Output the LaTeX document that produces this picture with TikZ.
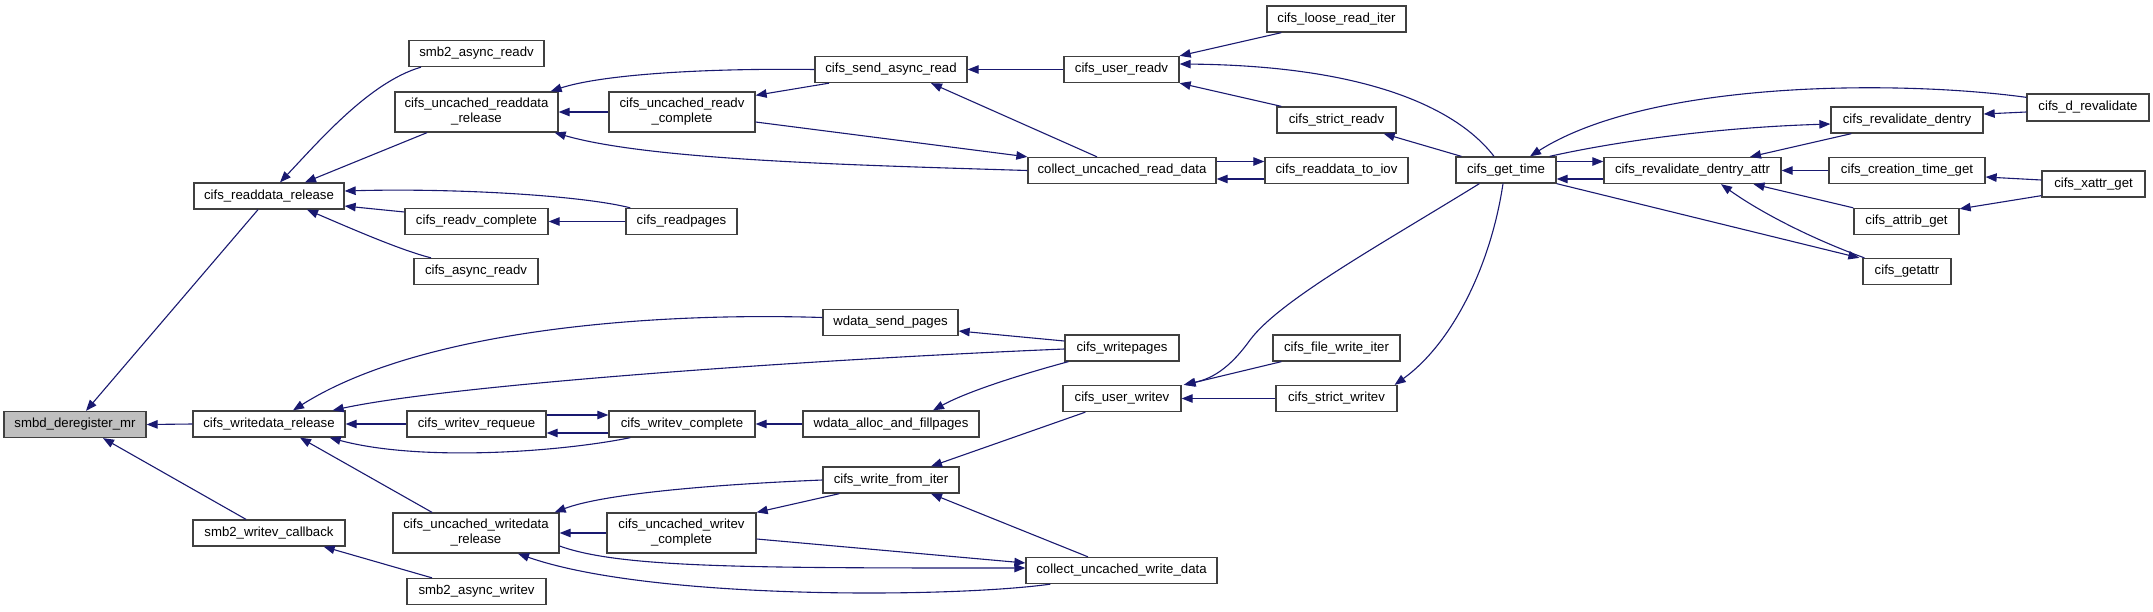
\documentclass[tikz,border=0pt]{standalone}
\usepackage{fontspec}
\setmainfont{Liberation Sans}
\usetikzlibrary{arrows.meta}
\definecolor{edgecol}{HTML}{191970}
\definecolor{bordercol}{HTML}{404040}
\definecolor{rootfill}{HTML}{BFBFBF}
\begin{document}
\begin{tikzpicture}[x=1pt,y=-1pt,
 fn/.style={draw=bordercol, line width=1.3pt, fill=white, inner sep=0pt, font=\fontsize{13.2}{15}\selectfont, align=center, minimum height=26pt},
 fn2/.style={fn, minimum height=40pt},
 calls/.style={draw=edgecol, line width=1.1pt, -{Triangle[length=11pt,width=8.5pt]}}]
\useasboundingbox (0,0) rectangle (2153,611);
% nodes
\node[fn, minimum width=142pt, fill=rootfill] (smbd) at (75,424.5) {smbd\_deregister\_mr};
\node[fn, minimum width=150pt] (rdrel) at (269,196) {cifs\_readdata\_release};
\node[fn, minimum width=135pt] (s2ar) at (476.5,53.5) {smb2\_async\_readv};
\node[fn2, minimum width=163pt] (urdrel) at (476.5,112) {cifs\_uncached\_readdata\\\_release};
\node[fn, minimum width=143pt] (rvc) at (476.5,221.5) {cifs\_readv\_complete};
\node[fn, minimum width=124pt] (car) at (476,271.5) {cifs\_async\_readv};
\node[fn, minimum width=152pt] (wdrel) at (269,424) {cifs\_writedata\_release};
\node[fn, minimum width=139pt] (wvrq) at (476.5,424) {cifs\_writev\_requeue};
\node[fn, minimum width=152pt] (s2wcb) at (269,533) {smb2\_writev\_callback};
\node[fn2, minimum width=166pt] (uwdrel) at (476,533) {cifs\_uncached\_writedata\\\_release};
\node[fn, minimum width=139pt] (s2aw) at (476.5,591.5) {smb2\_async\_writev};
\node[fn, minimum width=152pt] (sar) at (891,69.5) {cifs\_send\_async\_read};
\node[fn2, minimum width=146pt] (urvc) at (682,112) {cifs\_uncached\_readv\\\_complete};
\node[fn, minimum width=188pt] (curd) at (1122,170.5) {collect\_uncached\_read\_data};
\node[fn, minimum width=111pt] (rp) at (681.5,221.5) {cifs\_readpages};
\node[fn, minimum width=135pt] (wsp) at (890.5,322.5) {wdata\_send\_pages};
\node[fn, minimum width=146pt] (wvc) at (682,424) {cifs\_writev\_complete};
\node[fn, minimum width=176pt] (wafp) at (891,424) {wdata\_alloc\_and\_fillpages};
\node[fn, minimum width=136pt] (wfi) at (891,480) {cifs\_write\_from\_iter};
\node[fn2, minimum width=149pt] (uwvc) at (681.5,533) {cifs\_uncached\_writev\\\_complete};
\node[fn, minimum width=191pt] (cuwd) at (1121.5,570.5) {collect\_uncached\_write\_data};
\node[fn, minimum width=114pt] (wp) at (1122,348) {cifs\_writepages};
\node[fn, minimum width=118pt] (uwv) at (1122,398.5) {cifs\_user\_writev};
\node[fn, minimum width=139pt] (lri) at (1336.5,19) {cifs\_loose\_read\_iter};
\node[fn, minimum width=115pt] (urv) at (1121.5,69.5) {cifs\_user\_readv};
\node[fn, minimum width=119pt] (srv) at (1336.5,120) {cifs\_strict\_readv};
\node[fn, minimum width=143pt] (rtoi) at (1336.5,170.5) {cifs\_readdata\_to\_iov};
\node[fn, minimum width=100pt] (gt) at (1506,170) {cifs\_get\_time};
\node[fn, minimum width=127pt] (fwi) at (1336.5,348) {cifs\_file\_write\_iter};
\node[fn, minimum width=121pt] (swv) at (1336.5,398.5) {cifs\_strict\_writev};
\node[fn, minimum width=177pt] (rda) at (1692.5,170.5) {cifs\_revalidate\_dentry\_attr};
\node[fn, minimum width=152pt] (rd) at (1907,120) {cifs\_revalidate\_dentry};
\node[fn, minimum width=122pt, minimum height=27pt] (dr) at (2088,107.5) {cifs\_d\_revalidate};
\node[fn, minimum width=156pt] (ctg) at (1907,170.5) {cifs\_creation\_time\_get};
\node[fn, minimum width=103pt] (xg) at (2093.5,184) {cifs\_xattr\_get};
\node[fn, minimum width=105pt] (ag) at (1906.5,221.5) {cifs\_attrib\_get};
\node[fn, minimum width=88pt] (ga) at (1907,271.5) {cifs\_getattr};
\coordinate (bend) at (1250,340);
% read side
\draw[calls] ([xshift=-11pt]rdrel.south) -- ([xshift=11pt]smbd.north);
\draw[calls] (wdrel.west) -- (smbd.east);
\draw[calls] ([xshift=-23pt]s2wcb.north) -- ([xshift=28pt]smbd.south);
\draw[calls] ([xshift=-55.5pt]s2ar.south) .. controls (370,82) and (320,140) .. ([xshift=11pt]rdrel.north);
\draw[calls] ([xshift=-49.5pt]urdrel.south) -- ([xshift=36pt]rdrel.north);
\draw[calls] ([xshift=5pt]rp.north west) .. controls (580,195) and (450,188) .. ([yshift=5pt]rdrel.east);
\draw[calls] ([yshift=9.5pt]rvc.west) -- ([yshift=-10pt]rdrel.east);
\draw[calls] ([xshift=-45pt]car.north) .. controls (400,250) and (350,228) .. ([xshift=38pt]rdrel.south);
\draw[calls] (sar.west) .. controls (700,68) and (600,75) .. ([xshift=-8pt]urdrel.north east);
\draw[calls] (urvc.west) -- (urdrel.east);
\draw[calls] (curd.west) .. controls (850,165) and (650,160) .. ([xshift=-4pt]urdrel.south east);
\draw[calls] ([xshift=-62pt]sar.south) -- ([yshift=-4pt]urvc.north east);
\draw[calls] ([yshift=-10pt]urvc.east) -- (curd.north west);
\draw[calls] ([xshift=-25pt]curd.north) -- ([xshift=40pt]sar.south);
\draw[calls] (urv.west) -- (sar.east);
\draw[calls] ([yshift=-8.5pt]rtoi.west) -- ([yshift=-8.5pt]curd.east);
\draw[calls] ([yshift=9pt]curd.east) -- ([yshift=9pt]rtoi.west);
\draw[calls] ([xshift=15pt]lri.south west) -- (urv.north east);
\draw[calls] ([xshift=-12pt]gt.north) .. controls (1470,125) and (1400,66) .. ([yshift=5.5pt]urv.east);
\draw[calls] ([xshift=5pt]srv.north west) -- (urv.south east);
\draw[calls] ([xshift=6pt]gt.north west) -- ([xshift=-13pt]srv.south east);
\draw[calls] ([yshift=-4pt]dr.north west) .. controls (1900,80) and (1650,80) .. ([xshift=24pt]gt.north);
\draw[calls] ([xshift=-7pt]gt.north east) .. controls (1600,145) and (1700,128) .. ([yshift=-4pt]rd.west);
\draw[calls] ([yshift=8.5pt]gt.east) -- ([yshift=9pt]rda.west);
\draw[calls] ([yshift=-8.5pt]rda.west) -- ([yshift=-9pt]gt.east);
\draw[calls] (gt.south east) -- ([xshift=-3pt]ga.north west);
\draw[calls] ([xshift=2pt]ga.north west) .. controls (1810,238) and (1760,212) .. ([xshift=28.5pt]rda.south);
\draw[calls] ([xshift=21pt]rd.south west) -- ([xshift=57.5pt]rda.north);
\draw[calls] (ctg.west) -- (rda.east);
\draw[calls] (ag.north west) -- ([xshift=61pt]rda.south);
\draw[calls] ([yshift=-4.5pt]dr.west) -- ([yshift=6pt]rd.east);
\draw[calls] ([yshift=4pt]xg.west) -- ([yshift=-6.5pt]ctg.east);
\draw[calls] ([yshift=2pt]xg.south west) -- ([yshift=-1pt]ag.north east);
\draw[calls] (rp.west) -- (rvc.east);
% write side
\draw[calls] ([yshift=5pt]wsp.west) .. controls (650,312) and (420,330) .. ([xshift=24pt]wdrel.north);
\draw[calls] ([yshift=-1pt]wp.west) .. controls (800,360) and (450,385) .. ([xshift=-13pt]wdrel.north east);
\draw[calls] (wvrq.west) -- (wdrel.east);
\draw[calls] ([xshift=22pt]wvc.south west) .. controls (560,452) and (420,462) .. ([xshift=-16pt]wdrel.south east);
\draw[calls] ([xshift=-44pt]uwdrel.north) -- ([xshift=31pt]wdrel.south);
\draw[calls] ([yshift=-9pt]wvc.west) -- ([yshift=-9pt]wvrq.east);
\draw[calls] ([yshift=9pt]wvrq.east) -- ([yshift=9pt]wvc.west);
\draw[calls] (wafp.west) -- (wvc.east);
\draw[calls] ([xshift=4pt]wp.south west) .. controls (1030,372) and (970,390) .. ([xshift=42pt]wafp.north);
\draw[calls] ([yshift=7pt]wp.west) -- ([yshift=-8.5pt]wsp.east);
\draw[calls] (wfi.west) .. controls (700,485) and (600,495) .. ([xshift=-5pt]uwdrel.north east);
\draw[calls] (uwvc.west) -- (uwdrel.east);
\draw[calls] ([yshift=-6pt]uwvc.east) -- ([yshift=7.5pt]cuwd.west);
\draw[calls] ([yshift=-13pt]uwdrel.east) .. controls (620,568) and (750,568) .. ([yshift=2.5pt]cuwd.west);
\draw[calls] ([xshift=25pt]cuwd.south west) .. controls (950,598) and (650,600) .. ([xshift=42pt]uwdrel.south);
\draw[calls] ([xshift=17pt]wfi.south west) -- (uwvc.north east);
\draw[calls] ([xshift=-33.5pt]cuwd.north) -- ([xshift=40pt]wfi.south);
\draw[calls] ([xshift=23pt]uwv.south west) -- ([xshift=40pt]wfi.north);
\draw[calls] ([xshift=24pt]gt.south west) .. controls (1380,245) and (1280,300) .. (bend) .. controls (1225,375) and (1205,380) .. ([xshift=2pt]uwv.north east);
\draw[calls] ([xshift=9pt]fwi.south west) -- ([xshift=3pt]uwv.north east);
\draw[calls] (swv.west) -- (uwv.east);
\draw[calls] ([xshift=-3pt]gt.south) .. controls (1490,270) and (1450,345) .. ([xshift=-3pt]swv.north east);
\draw[calls] ([xshift=-44.5pt]s2aw.north) -- ([xshift=-22pt]s2wcb.south east);
\end{tikzpicture}
\end{document}
